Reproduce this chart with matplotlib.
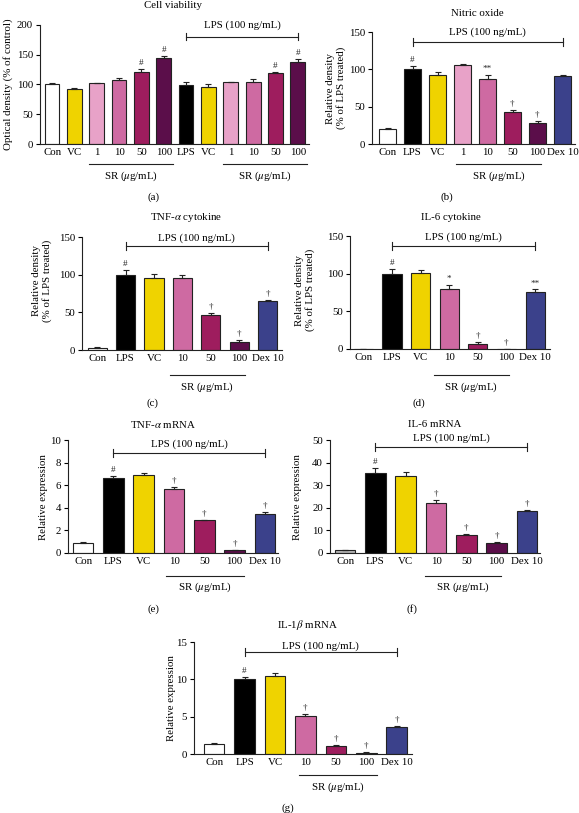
import matplotlib
matplotlib.use("Agg")
import matplotlib.pyplot as plt
import matplotlib.transforms as mtransforms
import numpy as np

plt.rcParams['font.family'] = ['Liberation Serif', 'DejaVu Serif']
plt.rcParams['mathtext.fontset'] = 'stix'

# ---------------- data ----------------
a_labels = ['Con', 'VC', '1', '10', '50', '100', 'LPS', 'VC', '1', '10', '50', '100']
a_groups = ['Con', 'VC', 'SR1', 'SR10', 'SR50', 'SR100', 'LPS', 'VC', 'SR1', 'SR10', 'SR50', 'SR100']
a_vals = [100, 92, 102, 107, 121, 145, 99, 95, 104, 105, 119, 138.5]
a_err = [2, 2, 1, 4, 5, 3, 5, 5, 1, 4, 2, 4]
a_marks = ['', '', '', '', '#', '#', '', '', '', '', '#', '#']

b_labels = ['Con', 'LPS', 'VC', '1', '10', '50', '100', 'Dex 10']
b_groups = ['Con', 'LPS', 'VC', 'SR1', 'SR10', 'SR50', 'SR100', 'Dex']
b_vals = [20, 101, 92, 106, 87.5, 43, 28.5, 91]
b_err = [1, 3, 4, 1, 5, 3, 2, 1]
b_marks = ['', '#', '', '', '**', '†', '†', '']

std_labels = ['Con', 'LPS', 'VC', '10', '50', '100', 'Dex 10']
std_groups = ['Con', 'LPS', 'VC', 'SR10', 'SR50', 'SR100', 'Dex']

c_vals = [3, 100, 96, 96, 47, 10, 65]
c_err = [0.5, 6, 5, 3, 2, 3, 1]
c_marks = ['', '#', '', '', '†', '†', '†']

d_vals = [0, 99, 100.5, 79, 7, 0, 76]
d_err = [0, 7, 5, 6, 2, 0, 3]
d_marks = ['', '#', '', '*', '†', '†', '**']

e_vals = [0.89, 6.66, 6.92, 5.68, 2.9, 0.24, 3.43]
e_err = [0.05, 0.12, 0.12, 0.15, 0.03, 0.05, 0.18]
e_marks = ['', '#', '', '†', '†', '†', '†']

f_vals = [1.2, 35.5, 34, 22.3, 8, 4.6, 18.6]
f_err = [0.2, 2, 2, 1, 0.4, 0.2, 0.6]
f_marks = ['', '#', '', '†', '†', '†', '†']

g_vals = [1.4, 10.05, 10.5, 5.13, 1.12, 0.18, 3.57]
g_err = [0.05, 0.3, 0.35, 0.2, 0.05, 0.05, 0.15]
g_marks = ['', '#', '', '†', '†', '†', '†']

palette = {'Con': '#FFFFFF', 'VC': '#EFD300', 'SR1': '#E8A2C8', 'SR10': '#CE6AA2',
           'SR50': '#9E1D5E', 'SR100': '#5B0E4A', 'LPS': '#000000', 'Dex': '#3B418B',
           'ConGrey': '#B5B5B5'}

W, H = 579, 813
fig = plt.figure(figsize=(W / 100, H / 100), dpi=100)

FS = 7.8


def fx(x):
    return x / W


def fy(y):
    return 1 - y / H


def make_ax(x0, x1, ytop, ybot, xlim, ylim, yticks):
    ax = fig.add_axes([fx(x0), fy(ybot), fx(x1) - fx(x0), fy(ytop) - fy(ybot)])
    ax.set_xlim(*xlim)
    ax.set_ylim(*ylim)
    ax.set_yticks(yticks)
    for s in ['top', 'right']:
        ax.spines[s].set_visible(False)
    for s in ['left', 'bottom']:
        ax.spines[s].set_linewidth(0.8)
        ax.spines[s].set_color('#222222')
    ax.tick_params(axis='y', length=3, width=0.8, pad=2, labelsize=FS)
    ax.tick_params(axis='x', length=0, pad=3, labelsize=FS)
    return ax


def draw_bars(ax, labels, groups, vals, errs, marks, width=0.66, colors=None):
    x = np.arange(len(vals))
    cols = colors if colors is not None else [palette[g] for g in groups]
    ax.bar(x, vals, width=width, color=cols, edgecolor='#222222', linewidth=0.8, zorder=2)
    ax.errorbar(x, vals, yerr=[np.zeros(len(errs)), errs], fmt='none', ecolor='#222222',
                elinewidth=0.8, capsize=2.5, capthick=0.8, zorder=3)
    ax.set_xticks(x)
    ax.set_xticklabels(labels)
    for xi, v, e, m in zip(x, vals, errs, marks):
        if m:
            ax.annotate(m, (xi, v + e), xytext=(0, 1.5), textcoords='offset points',
                        ha='center', va='bottom', fontsize=6.6, color='#222222')


def bracket(ax, x0, x1, y, text_y, tick=None):
    yl = ax.get_ylim()
    t = tick if tick is not None else (yl[1] - yl[0]) * 0.035
    ax.plot([x0, x1], [y, y], color='#222222', lw=0.8, clip_on=False)
    ax.plot([x0, x0], [y - t, y + t], color='#222222', lw=0.8, clip_on=False)
    ax.plot([x1, x1], [y - t, y + t], color='#222222', lw=0.8, clip_on=False)
    ax.text((x0 + x1) / 2, text_y, 'LPS (100 ng/mL)', ha='center', va='center', fontsize=FS,
            clip_on=False)


def sr_line(ax, x0, x1, y_line, y_text):
    tr = mtransforms.blended_transform_factory(ax.transData, fig.transFigure)
    ax.plot([x0, x1], [fy(y_line), fy(y_line)], color='#222222', lw=0.8, transform=tr,
            clip_on=False)
    ax.text((x0 + x1) / 2, fy(y_text), 'SR ($\\mu$g/mL)', transform=tr, ha='center',
            va='center', fontsize=FS)


def ftext(x, y, s, **kw):
    kw.setdefault('fontsize', FS)
    fig.text(fx(x), fy(y), s, ha='center', va='center', **kw)


# ---------------- (a) ----------------
ax = make_ax(40, 309, 25, 144, (-0.54, 11.5), (0, 200), [0, 50, 100, 150, 200])
draw_bars(ax, a_labels, a_groups, a_vals, a_err, a_marks, width=0.66)
bracket(ax, 6, 11, 180, 200, tick=6)
sr_line(ax, 1.65, 5.4, 164, 176)
sr_line(ax, 7.65, 11.4, 164, 176)
ftext(173, 6, 'Cell viability')
ftext(8, 84, 'Optical density (% of control)', rotation=90)
ftext(153, 197, '(a)')

# ---------------- (b) ----------------
ax = make_ax(372, 575, 32, 144, (-0.62, 7.5), (0, 150), [0, 50, 100, 150])
draw_bars(ax, b_labels, b_groups, b_vals, b_err, b_marks, width=0.67)
bracket(ax, 1, 7, 137, 150)
sr_line(ax, 2.75, 6.15, 164, 176)
ftext(477, 13, 'Nitric oxide')
ftext(336, 88, 'Relative density\n(% of LPS treated)', rotation=90, linespacing=1.1)
ftext(447, 197, '(b)')

# ---------------- (c) ----------------
ax = make_ax(82, 282, 237, 350, (-0.53, 6.5), (0, 150), [0, 50, 100, 150])
draw_bars(ax, std_labels, std_groups, c_vals, c_err, c_marks, width=0.67)
bracket(ax, 1, 6, 138, 148)
sr_line(ax, 2.55, 5.2, 375, 387)
ftext(186, 217, 'TNF-$\\alpha$ cytokine')
ftext(42, 281, 'Relative density\n(% of LPS treated)', rotation=90, linespacing=1.1)
ftext(152, 403, '(c)')

# ---------------- (d) ----------------
ax = make_ax(350, 550, 236, 349, (-0.47, 6.52), (0, 150), [0, 50, 100, 150])
draw_bars(ax, std_labels, std_groups, d_vals, d_err, d_marks, width=0.67)
bracket(ax, 1, 6, 137, 148)
sr_line(ax, 2.45, 5.1, 375, 387)
ftext(451, 217, 'IL-6 cytokine')
ftext(305, 290, 'Relative density\n(% of LPS treated)', rotation=90, linespacing=1.1)
ftext(419, 403, '(d)')

# ---------------- (e) ----------------
ax = make_ax(68, 278, 440, 553, (-0.5, 6.43), (0, 10), [0, 2, 4, 6, 8, 10])
draw_bars(ax, std_labels, std_groups, e_vals, e_err, e_marks, width=0.68)
bracket(ax, 1, 6, 8.82, 9.6)
sr_line(ax, 2.75, 5.3, 576, 587)
ftext(163, 424, 'TNF-$\\alpha$ mRNA')
ftext(43, 497, 'Relative expression', rotation=90)
ftext(153, 609, '(e)')

# ---------------- (f) ----------------
ax = make_ax(330, 540, 440, 553, (-0.5, 6.43), (0, 50), [0, 10, 20, 30, 40, 50])
f_cols = [palette['ConGrey']] + [palette[g] for g in std_groups[1:]]
draw_bars(ax, std_labels, std_groups, f_vals, f_err, f_marks, width=0.68, colors=f_cols)
bracket(ax, 1, 6, 46.9, 50.7)
sr_line(ax, 2.65, 5.15, 576, 587)
ftext(435, 424, 'IL-6 mRNA')
ftext(298, 497, 'Relative expression', rotation=90)
ftext(412, 609, '(f)')

# ---------------- (g) ----------------
ax = make_ax(194, 412, 642, 754, (-0.66, 6.5), (0, 15), [0, 5, 10, 15])
draw_bars(ax, std_labels, std_groups, g_vals, g_err, g_marks, width=0.68)
bracket(ax, 1, 6, 13.66, 14.4)
sr_line(ax, 2.8, 5.35, 775, 787)
ftext(307, 625, 'IL-1$\\beta$ mRNA')
ftext(172, 698, 'Relative expression', rotation=90)
ftext(288, 808, '(g)')

fig.savefig('out.png', dpi=100)
